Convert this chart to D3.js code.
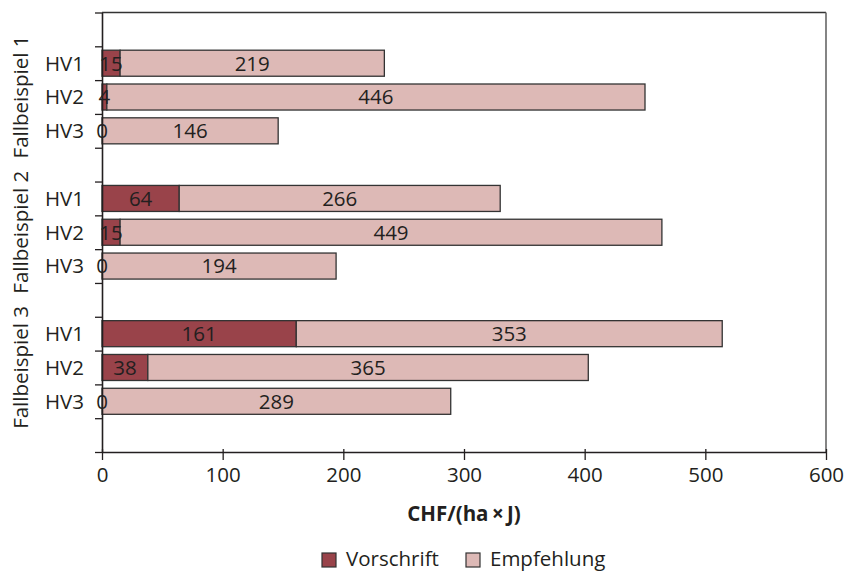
<!DOCTYPE html>
<html><head><meta charset="utf-8">
<script src="https://cdn.jsdelivr.net/npm/d3@7"></script>
<style>
body{margin:0;background:#fff;}
text{font-family:"Open Sans","Noto Sans",sans-serif;fill:#231f20;}
</style></head>
<body><svg id="c" width="844" height="572"></svg>
<script>
const groups = ["Fallbeispiel 1", "Fallbeispiel 2", "Fallbeispiel 3"];
const variants = ["HV1", "HV2", "HV3"];
const vorschrift = [[15, 4, 0], [64, 15, 0], [161, 38, 0]];
const empfehlung = [[219, 446, 146], [266, 449, 194], [353, 365, 289]];
const seriesNames = ["Vorschrift", "Empfehlung"];
const xTicks = [0, 100, 200, 300, 400, 500, 600];
const xTitle = "CHF/(ha\u2009×\u2009J)";

const colors = {Vorschrift: "#99434a", Empfehlung: "#ddb9b6"};
const FS = 20.5;
const svg = d3.select("#c");
const L = 102, R = 826, T = 12.5, B = 452;

// slot layout: gap, 3 bars, gap, 3 bars, gap, 3 bars, gap
const slots = [];
groups.forEach((g, gi) => {
  slots.push("gap" + gi);
  variants.forEach(v => slots.push(g + "|" + v));
});
slots.push("gapEnd");

const x = d3.scaleLinear().domain([0, 600]).range([L, R]);
const y = d3.scaleBand().domain(slots).range([T, B]).paddingInner(0.23).paddingOuter(0.115);
const yIdx = d3.scaleLinear().domain([0, slots.length]).range([T, B]);

// frame
svg.append("line").attr("x1", L).attr("x2", R).attr("y1", T).attr("y2", T).attr("stroke", "#333").attr("stroke-width", 1.3);
svg.append("line").attr("x1", R).attr("x2", R).attr("y1", T).attr("y2", B).attr("stroke", "#666").attr("stroke-width", 1.6);

// rows
const rows = [];
groups.forEach((g, gi) => variants.forEach((v, vi) => {
  rows.push({key: g + "|" + v, v, a: vorschrift[gi][vi], b: empfehlung[gi][vi]});
}));

const bars = svg.append("g");
rows.forEach(r => {
  const y0 = y(r.key), h = y.bandwidth();
  bars.append("rect").attr("x", x(0)).attr("y", y0).attr("width", x(r.a) - x(0)).attr("height", h)
    .attr("fill", colors.Vorschrift).attr("stroke", "#333").attr("stroke-width", 1.3);
  bars.append("rect").attr("x", x(r.a)).attr("y", y0).attr("width", x(r.a + r.b) - x(r.a)).attr("height", h)
    .attr("fill", colors.Empfehlung).attr("stroke", "#333").attr("stroke-width", 1.3);
  bars.append("text").attr("x", (x(0) + x(r.a)) / 2).attr("y", y0 + h / 2).attr("dy", "0.36em")
    .attr("text-anchor", "middle").attr("font-size", FS).text(r.a);
  bars.append("text").attr("x", (x(r.a) + x(r.a + r.b)) / 2).attr("y", y0 + h / 2).attr("dy", "0.36em")
    .attr("text-anchor", "middle").attr("font-size", FS).text(r.b);
  svg.append("text").attr("x", 84).attr("y", y0 + h / 2).attr("dy", "0.36em")
    .attr("text-anchor", "end").attr("font-size", FS).text(r.v);
});

// left axis with ticks at slot boundaries
const ya = svg.append("g").attr("transform", `translate(${L},0)`)
  .call(d3.axisLeft(yIdx).tickValues(d3.range(slots.length + 1)).tickFormat("").tickSize(7).tickSizeOuter(0));
ya.selectAll("line").attr("stroke", "#231f20").attr("stroke-width", 1.3);
ya.select(".domain").attr("stroke", "#231f20").attr("stroke-width", 1.6);

// group labels
groups.forEach((g, gi) => {
  const cy = (y(g + "|HV1") + y(g + "|HV3") + y.bandwidth()) / 2;
  svg.append("text").attr("transform", `translate(28,${cy}) rotate(-90)`)
    .attr("text-anchor", "middle").attr("font-size", FS).text(g);
});

// bottom axis
const xa = svg.append("g").attr("transform", `translate(0,${B})`)
  .call(d3.axisBottom(x).tickValues(xTicks).tickSize(8).tickSizeOuter(0).tickPadding(7));
xa.select(".domain").attr("stroke", "#231f20").attr("stroke-width", 1.3);
xa.selectAll(".tick line").attr("stroke", "#231f20").attr("stroke-width", 1.3).attr("y1", -3);
xa.selectAll(".tick text").attr("font-size", FS).attr("font-family", "Open Sans").attr("fill", "#231f20");

svg.append("text").attr("x", (L + R) / 2).attr("y", 521).attr("text-anchor", "middle")
  .attr("font-size", FS).attr("font-weight", "bold").text(xTitle);

// legend
const legX = [322, 466];
seriesNames.forEach((s, i) => {
  svg.append("rect").attr("x", legX[i]).attr("y", 553).attr("width", 14).attr("height", 14)
    .attr("fill", colors[s]).attr("stroke", "#333").attr("stroke-width", 1.2);
  svg.append("text").attr("x", legX[i] + 24).attr("y", 566).attr("font-size", FS).text(s);
});
</script></body></html>
